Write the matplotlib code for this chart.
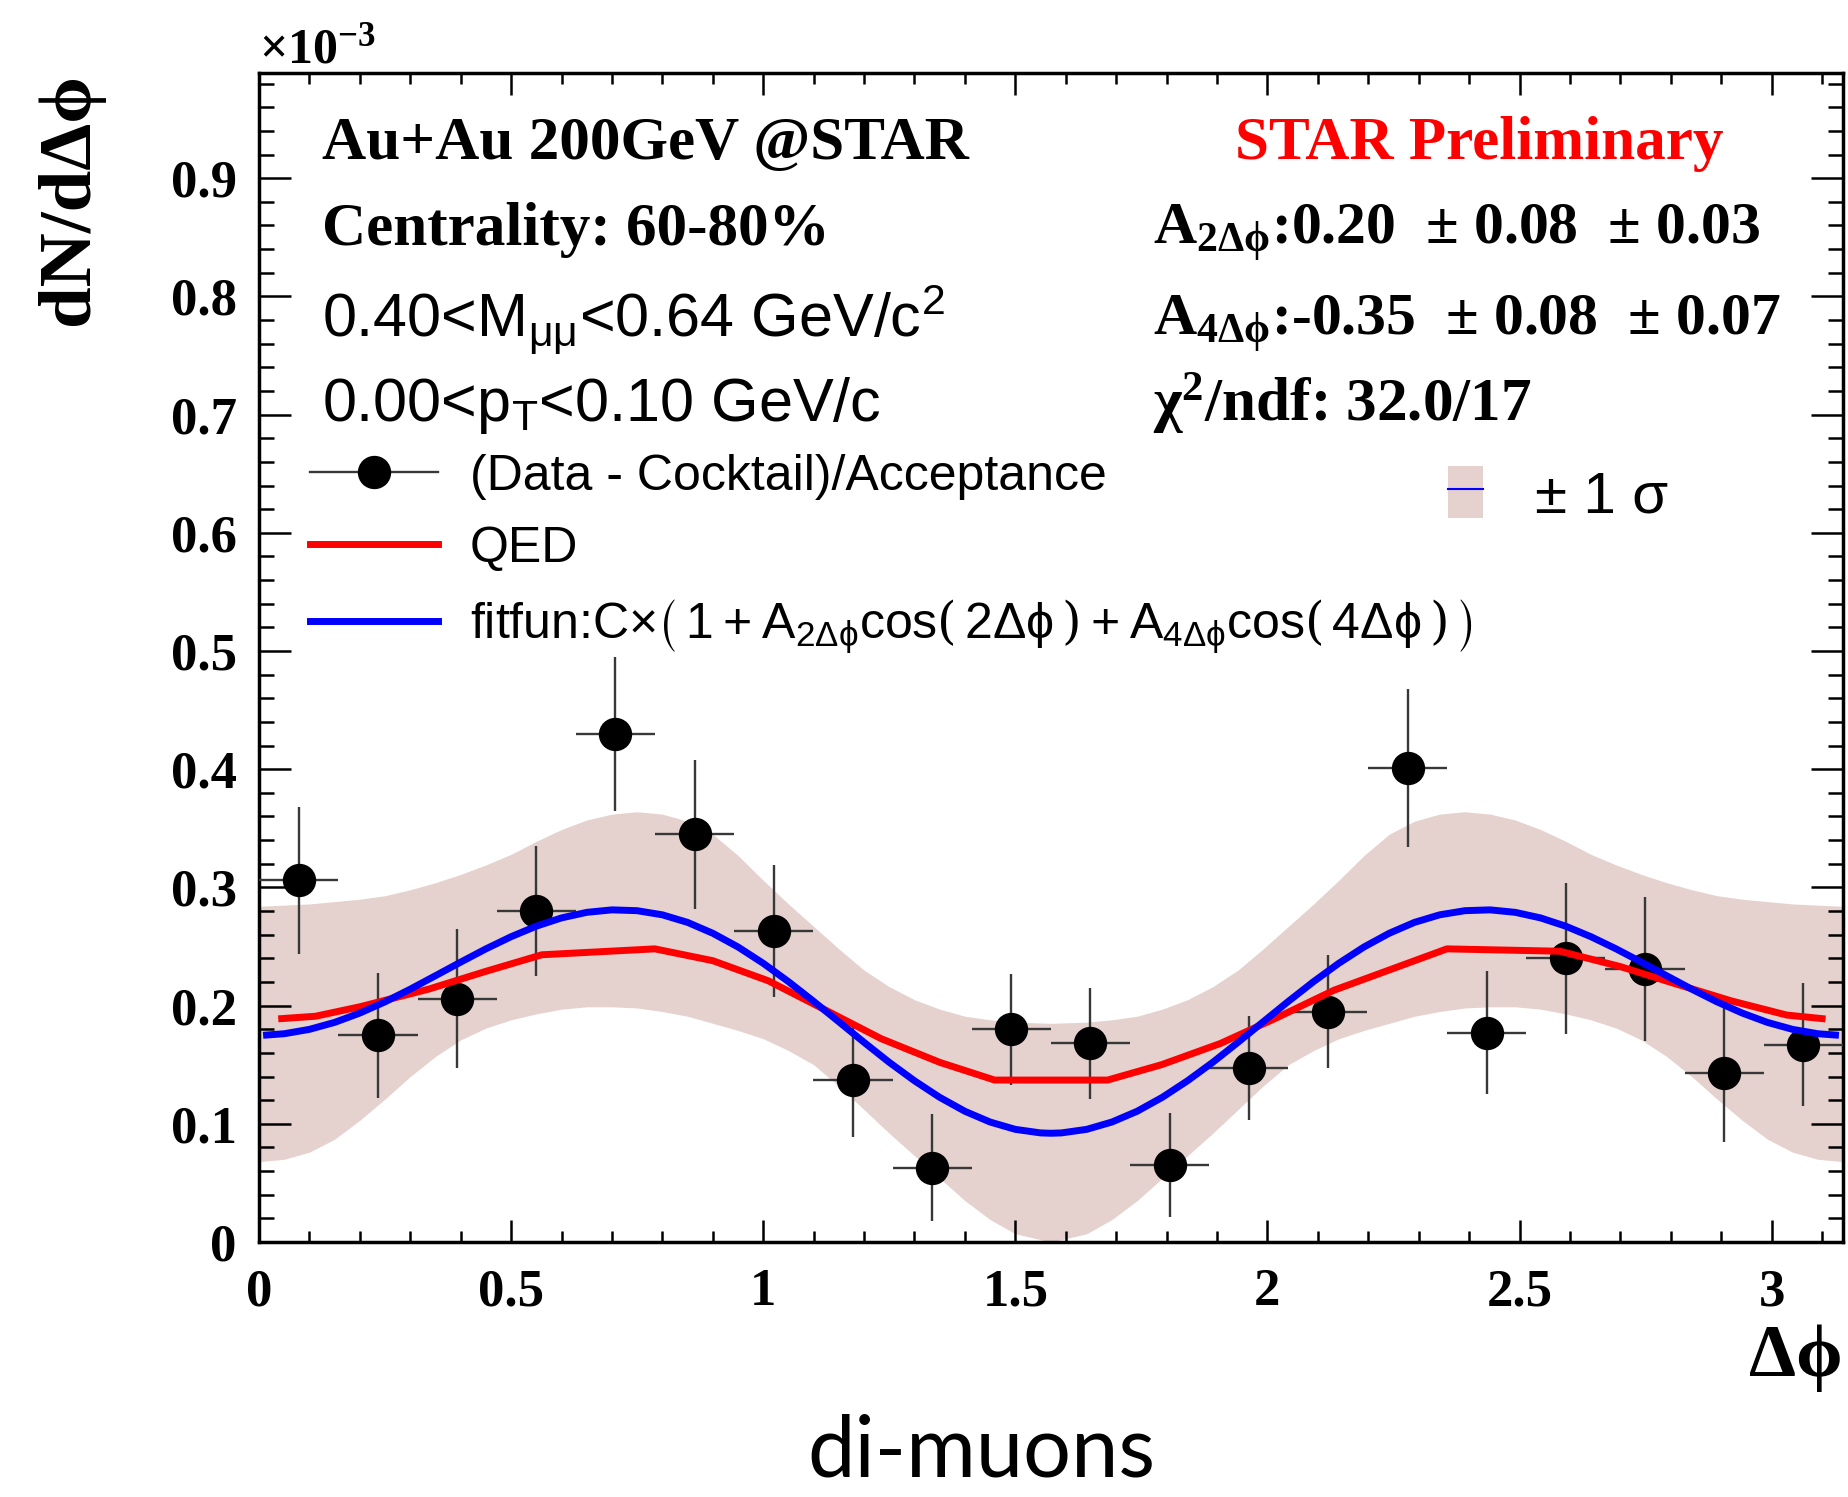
import numpy as np
import matplotlib
matplotlib.use('Agg')
import matplotlib.pyplot as plt
from matplotlib.lines import Line2D
from matplotlib.patches import Patch
from matplotlib.legend_handler import HandlerTuple
from matplotlib.ticker import MultipleLocator, FuncFormatter

plt.rcParams['font.family'] = ['Liberation Serif', 'DejaVu Serif']
plt.rcParams['mathtext.fontset'] = 'dejavuserif'
plt.rcParams['mathtext.default'] = 'regular'

SANS = ['Liberation Sans', 'DejaVu Sans']

# all y values in units of 1e-3
dphi = [0.079, 0.236, 0.393, 0.550, 0.707, 0.864, 1.021, 1.178, 1.335, 1.492,
        1.649, 1.806, 1.963, 2.120, 2.278, 2.435, 2.592, 2.749, 2.906, 3.063]
yields = [0.306, 0.175, 0.206, 0.280, 0.430, 0.345, 0.263, 0.137, 0.063, 0.180,
          0.168, 0.065, 0.147, 0.195, 0.401, 0.177, 0.240, 0.231, 0.143, 0.167]
yerr = [0.062, 0.053, 0.059, 0.055, 0.065, 0.063, 0.056, 0.048, 0.045, 0.047,
        0.047, 0.044, 0.044, 0.048, 0.067, 0.052, 0.064, 0.061, 0.058, 0.052]
xerr = [0.0785] * 20

# QED curve
qed_x = [0.045, 0.112, 0.20, 0.337, 0.45, 0.561, 0.785, 0.90, 1.01, 1.12, 1.234,
         1.35, 1.459, 1.683, 1.79, 1.907, 2.02, 2.132, 2.356, 2.58, 2.70, 2.805,
         2.92, 3.03, 3.10]
qed_y = [0.189, 0.191, 0.199, 0.214, 0.229, 0.243, 0.248, 0.238, 0.221, 0.197, 0.172,
         0.152, 0.137, 0.137, 0.150, 0.168, 0.190, 0.213, 0.248, 0.246, 0.233, 0.219,
         0.204, 0.192, 0.189]

# fit curve, read on [0, pi/2]; it is symmetric about pi/2
fit_x_half = [0.015, 0.05, 0.1, 0.15, 0.2, 0.25, 0.3, 0.35, 0.4, 0.45, 0.5,
              0.55, 0.6, 0.65, 0.7, 0.75, 0.8, 0.85, 0.9, 0.95, 1.0, 1.05,
              1.1, 1.15, 1.2, 1.25, 1.3, 1.35, 1.4, 1.45, 1.5, 1.55, 1.5708]
fit_y_half = [0.1751, 0.1762, 0.1799, 0.1858, 0.1937, 0.2032, 0.2139, 0.2253,
              0.2368, 0.2480, 0.2583, 0.2672, 0.2742, 0.2789, 0.2810, 0.2803,
              0.2768, 0.2704, 0.2612, 0.2496, 0.2358, 0.2203, 0.2036, 0.1863,
              0.1689, 0.1520, 0.1364, 0.1224, 0.1106, 0.1015, 0.0953, 0.0923,
              0.0920]

# +-1 sigma band, also symmetric about pi/2
band_x_half = [0.0, 0.05, 0.1, 0.15, 0.2, 0.25, 0.3, 0.35, 0.4, 0.45, 0.5,
               0.55, 0.6, 0.65, 0.7, 0.75, 0.8, 0.85, 0.9, 0.95, 1.0, 1.05,
               1.1, 1.15, 1.2, 1.25, 1.3, 1.35, 1.4, 1.45, 1.5, 1.5708]
band_hi_half = [0.284, 0.285, 0.286, 0.288, 0.290, 0.293, 0.298, 0.304, 0.311,
                0.319, 0.328, 0.339, 0.349, 0.357, 0.362, 0.364, 0.362, 0.356,
                0.345, 0.327, 0.306, 0.286, 0.267, 0.248, 0.230, 0.216, 0.205,
                0.197, 0.191, 0.188, 0.186, 0.185]
band_lo_half = [0.068, 0.070, 0.076, 0.087, 0.103, 0.121, 0.140, 0.157, 0.171,
                0.181, 0.188, 0.193, 0.197, 0.199, 0.199, 0.198, 0.195, 0.191,
                0.185, 0.179, 0.172, 0.162, 0.150, 0.132, 0.112, 0.092, 0.073,
                0.054, 0.035, 0.019, 0.007, 0.0]


def mirror(x, y):
    x = np.asarray(x)
    y = np.asarray(y)
    return (np.concatenate([x, np.pi - x[::-1][1:]]),
            np.concatenate([y, y[::-1][1:]]))


fit_x, fit_y = mirror(fit_x_half, fit_y_half)
band_x, band_hi = mirror(band_x_half, band_hi_half)
_, band_lo = mirror(band_x_half, band_lo_half)

band_col = '#e5d1cd'

fig = plt.figure(figsize=(18.49, 14.97), dpi=100)
ax = fig.add_axes([0.14008, 0.17034, 0.85668, 0.78089])

ax.fill_between(band_x, band_lo, band_hi, color=band_col, lw=0, zorder=1)
ax.errorbar(dphi, yields, yerr=yerr, xerr=xerr, fmt='o', color='black',
            ecolor='#383838', elinewidth=1.7, ms=23, capsize=0, zorder=3)
ax.plot(qed_x, qed_y, color='#ff0000', lw=5, zorder=4)
ax.plot(fit_x, fit_y, color='#0000ff', lw=5, zorder=5)

ax.set_xlim(0, np.pi)
ax.set_ylim(0, 0.989)
ax.xaxis.set_major_locator(MultipleLocator(0.5))
ax.xaxis.set_minor_locator(MultipleLocator(0.1))
ax.yaxis.set_major_locator(MultipleLocator(0.1))
ax.yaxis.set_minor_locator(MultipleLocator(0.02))
fmt = FuncFormatter(lambda v, p: '%g' % round(v, 3))
ax.xaxis.set_major_formatter(fmt)
ax.yaxis.set_major_formatter(fmt)
ax.tick_params(which='both', direction='in', top=True, right=True, width=1.8)
ax.tick_params(axis='x', which='major', length=16, pad=19, labelsize=38)
ax.tick_params(axis='x', which='minor', length=8)
ax.tick_params(axis='y', which='major', length=23, pad=16, labelsize=38)
ax.tick_params(axis='y', which='minor', length=11)
for lab in ax.get_xticklabels() + ax.get_yticklabels():
    lab.set_fontweight('bold')
for s in ax.spines.values():
    s.set_linewidth(2.5)

# axis titles
ax.text(-0.108, 1.0, 'dN/dΔϕ', rotation=90, rotation_mode='anchor', ha='right',
        va='baseline', fontsize=54, weight='bold', transform=ax.transAxes)
ax.text(1.0, -0.1146, 'Δϕ', ha='right', va='baseline', fontsize=54,
        weight='bold', transform=ax.transAxes)
ax.text(0.0, 1.0086, r'×10$^{-3}$', ha='left', va='baseline', fontsize=36,
        weight='bold', transform=ax.transAxes)

# labels
ax.text(0.0398, 0.9264, 'Au+Au 200GeV @STAR', fontsize=44, weight='bold',
        va='baseline', transform=ax.transAxes)
ax.text(0.0398, 0.8529, 'Centrality: 60-80%', fontsize=44, weight='bold',
        va='baseline', transform=ax.transAxes)
ax.text(0.0398, 0.7750, r'0.40<M$_{\mu\mu}$<0.64 GeV/c$^{2}$', fontsize=44,
        family=SANS, va='baseline', transform=ax.transAxes)
ax.text(0.0398, 0.7023, r'0.00<p$_{T}$<0.10 GeV/c', fontsize=44,
        family=SANS, va='baseline', transform=ax.transAxes)

ax.text(0.616, 0.9264, 'STAR Preliminary', fontsize=44, weight='bold',
        color='#ff0000', va='baseline', transform=ax.transAxes)
ax.text(0.5644, 0.8537, r'A$_{2\Delta\phi}$:0.20  ± 0.08  ± 0.03', fontsize=43,
        weight='bold', va='baseline', transform=ax.transAxes)
ax.text(0.5644, 0.7759, r'A$_{4\Delta\phi}$:-0.35  ± 0.08  ± 0.07', fontsize=43,
        weight='bold', va='baseline', transform=ax.transAxes)
ax.text(0.5644, 0.7023, r'χ$^{2}$/ndf: 32.0/17', fontsize=44,
        weight='bold', va='baseline', transform=ax.transAxes)

# legends
h_data = Line2D([], [], color='#383838', lw=1.7, marker='o', ms=23,
                mfc='black', mec='black')
h_qed = Line2D([], [], color='#ff0000', lw=5)
h_fit = Line2D([], [], color='#0000ff', lw=5)
leg = ax.legend([h_data, h_qed, h_fit],
                ['(Data - Cocktail)/Acceptance', 'QED',
                 r'fitfun:C$\times\left(\,1+A_{2\Delta\phi}cos\left(\,2\Delta\phi\,\right)'
                 r'+A_{4\Delta\phi}cos\left(\,4\Delta\phi\,\right)\,\right)$'],
                loc='center left', bbox_to_anchor=(0.0322, 0.588),
                frameon=False, handlelength=2.55, handletextpad=0.64,
                labelspacing=0.52, borderpad=0, borderaxespad=0,
                prop={'family': SANS, 'size': 36})
ax.add_artist(leg)

h_band = (Patch(facecolor=band_col, edgecolor='none'),
          Line2D([], [], color='#0000ff', lw=1.5))
ax.legend([h_band], ['± 1 σ'], handler_map={tuple: HandlerTuple(ndivide=1)},
          loc='center left', bbox_to_anchor=(0.7506, 0.639), frameon=False,
          handlelength=0.6, handleheight=1.0, handletextpad=0.9,
          borderpad=0, borderaxespad=0, prop={'family': SANS, 'size': 42})

fig.text(0.531, 0.0135, 'di-muons', family=['Lato', 'DejaVu Sans'], fontsize=61,
         ha='center', va='baseline')

fig.savefig('out.png', dpi=100)
